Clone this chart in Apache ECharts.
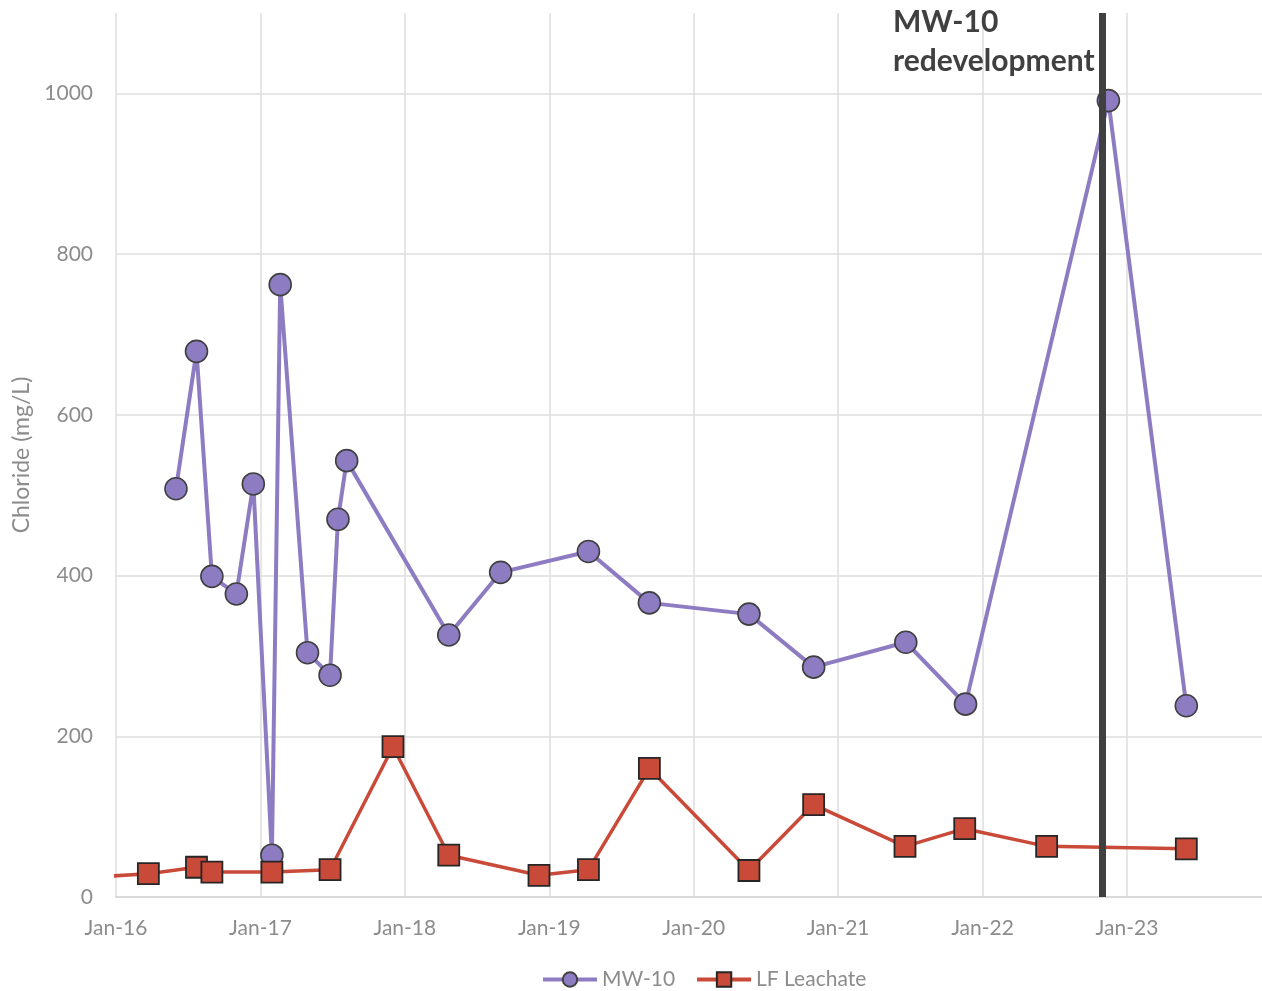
<!DOCTYPE html>
<html>
<head>
<meta charset="utf-8">
<script src="https://cdn.jsdelivr.net/npm/echarts@6/dist/echarts.min.js"></script>
<style>html,body{margin:0;padding:0;background:#fff;}#c{width:1262px;height:991px;}</style>
</head>
<body>
<div id="c"></div>
<script>
// ---- Data ----
const mwDates = ['2016-06-01','2016-07-23','2016-08-31','2016-11-01','2016-12-14','2017-01-30','2017-02-20','2017-04-30','2017-06-26','2017-07-16','2017-08-07','2018-04-22','2018-08-31','2019-04-10','2019-09-11','2020-05-20','2020-10-31','2021-06-21','2021-11-19','2022-11-15','2023-05-31'];
const mwValues = [508, 679, 399, 377, 514, 52, 762, 304, 276, 470, 543, 326, 404, 430, 366, 352, 286, 317, 240, 991, 238];
const lfDates = ['2015-10-15','2016-03-23','2016-07-23','2016-08-31','2017-01-30','2017-06-26','2017-12-02','2018-04-22','2018-12-06','2019-04-10','2019-09-11','2020-05-20','2020-10-31','2021-06-19','2021-11-17','2022-06-12','2023-05-31'];
const lfValues = [24, 29, 37, 31, 31, 34, 187, 52, 27, 34, 160, 33, 115, 63, 85, 63, 60];
const redevelopmentDate = '2022-11-01';
const xTickYears = [2016, 2017, 2018, 2019, 2020, 2021, 2022, 2023];
const yTicks = [0, 200, 400, 600, 800, 1000];

function toYear(s) {
  const p = s.split('-').map(Number);
  const t = Date.UTC(p[0], p[1] - 1, p[2]);
  const a = Date.UTC(p[0], 0, 1), b = Date.UTC(p[0] + 1, 0, 1);
  return p[0] + (t - a) / (b - a);
}
const mwData = mwDates.map((d, i) => [toYear(d), mwValues[i]]);
const lfData = lfDates.map((d, i) => [toYear(d), lfValues[i]]);

const labelColor = '#8c8c8c';
const gridColor = '#dedede';
const fontFam = 'Lato, "Open Sans", sans-serif';

const chart = echarts.init(document.getElementById('c'));
chart.setOption({
  animation: false,
  backgroundColor: '#fff',
  grid: { left: 116, right: 0, top: 13, bottom: 94, containLabel: false },
  xAxis: {
    type: 'value',
    min: xTickYears[0],
    max: 2023.935,
    interval: 1,
    axisLine: { show: true, lineStyle: { color: '#d9d9d9', width: 2 } },
    axisTick: { show: false },
    axisLabel: {
      margin: 21,
      color: labelColor,
      fontSize: 21,
      fontFamily: fontFam,
      showMaxLabel: false,
      formatter: v => xTickYears.indexOf(v) >= 0 ? 'Jan-' + String(v).slice(2) : ''
    },
    splitLine: { show: true, showMaxLine: false, lineStyle: { color: gridColor, width: 1.5 } }
  },
  yAxis: {
    type: 'value',
    min: 0,
    max: 1100,
    interval: 200,
    name: 'Chloride (mg/L)',
    nameLocation: 'middle',
    nameGap: 82,
    nameTextStyle: { color: labelColor, fontSize: 23, fontFamily: fontFam },
    axisLine: { show: false },
    axisTick: { show: false },
    axisLabel: {
      margin: 23,
      color: labelColor,
      fontSize: 21,
      fontFamily: fontFam,
      showMaxLabel: false,
      formatter: v => yTicks.indexOf(v) >= 0 ? String(v) : ''
    },
    splitLine: { show: true, showMaxLine: false, showMinLine: false, lineStyle: { color: gridColor, width: 1.5 } }
  },
  legend: {
    left: 536,
    top: 964,
    itemWidth: 54,
    itemHeight: 18,
    itemGap: 20,
    lineStyle: { width: 4 },
    textStyle: { color: labelColor, fontSize: 21, fontFamily: fontFam },
    data: ['MW-10', 'LF Leachate']
  },
  graphic: [{
    type: 'text',
    left: 893,
    top: 3,
    z: 10,
    style: {
      text: 'MW-10\nredevelopment',
      font: 'bold 30px ' + fontFam,
      fill: '#404040',
      lineHeight: 39
    }
  }],
  series: [
    {
      name: 'marker',
      type: 'line',
      data: [],
      z: 1,
      silent: true,
      markLine: {
        silent: true,
        symbol: 'none',
        label: { show: false },
        lineStyle: { color: '#404040', width: 7, type: 'solid' },
        data: [{ xAxis: toYear(redevelopmentDate) }]
      }
    },
    {
      name: 'MW-10',
      type: 'line',
      z: 3,
      data: mwData,
      symbol: 'circle',
      symbolSize: 22,
      showAllSymbol: true,
      lineStyle: { color: '#8e7cc3', width: 4 },
      itemStyle: { color: '#8e7cc3', borderColor: '#404040', borderWidth: 1.6 }
    },
    {
      name: 'LF Leachate',
      type: 'line',
      z: 4,
      data: lfData,
      symbol: 'rect',
      symbolSize: 21,
      showAllSymbol: true,
      lineStyle: { color: '#c94a38', width: 3.5 },
      itemStyle: { color: '#c94a38', borderColor: '#262626', borderWidth: 1.8 }
    }
  ]
});
</script>
</body>
</html>
